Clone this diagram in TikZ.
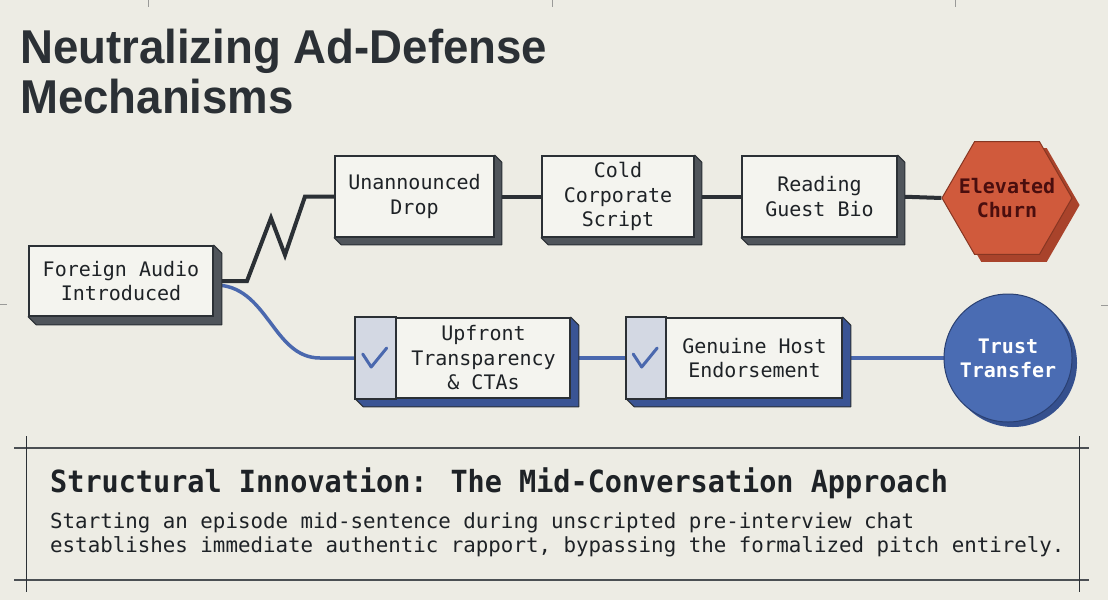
\documentclass[tikz,border=0pt]{standalone}
\usepackage{fontspec}
\setmainfont{Liberation Sans}
\newfontfamily\monof{DejaVu Sans Mono}
\usetikzlibrary{calc,shapes.geometric}
\definecolor{bgcol}{HTML}{EDECE4}
\definecolor{boxfill}{HTML}{F4F4EF}
\definecolor{linecol}{HTML}{2B3035}
\definecolor{textcol}{HTML}{1E2226}
\definecolor{grayext}{HTML}{50555B}
\definecolor{bluecol}{HTML}{4A68AE}
\definecolor{blueext}{HTML}{3A5494}
\definecolor{stripcol}{HTML}{D3D8E3}
\definecolor{redcol}{HTML}{D05A3C}
\definecolor{redext}{HTML}{A9432B}
\definecolor{redtext}{HTML}{4A0E0E}
\definecolor{circcol}{HTML}{4A6CB3}
\definecolor{circext}{HTML}{35508E}
\definecolor{tickcol}{HTML}{9A9A98}
\pgfdeclarelayer{bglayer}
\pgfdeclarelayer{midlayer}
\pgfsetlayers{bglayer,midlayer,main}
\newcommand\extrude[3]{\filldraw[fill=#3, draw=linecol, line width=1pt, line join=round] (#1.north east) -- ++(#2,#2) -- ($(#1.south east)+(#2,#2)$) -- ($(#1.south west)+(#2,#2)$) -- (#1.south west) -- cycle;}
\begin{document}
\begin{tikzpicture}[x=1pt,y=-1pt,
  box/.style={draw=linecol, line width=1.6pt, fill=boxfill, inner sep=0pt, align=center,
    font=\monof\fontsize{20}{24.5}\selectfont, text=textcol},
  bluebox/.style={box, draw=linecol},
  darkline/.style={draw=linecol, line width=4pt},
  blueline/.style={draw=bluecol, line width=3.5pt},
  checkmark/.style={draw=bluecol, line width=3pt, line cap=round, line join=round},
  tick/.style={draw=tickcol, line width=0.8pt},
  frame/.style={draw=linecol, line width=1pt},
  rule/.style={draw=linecol!85, line width=2.2pt},
  outcome/.style={align=center, font=\monof\bfseries\fontsize{20}{24}\selectfont}
]
\begin{pgfonlayer}{bglayer}
\fill[bgcol] (0,0) rectangle (1108,600);
\end{pgfonlayer}
\useasboundingbox (0,0) rectangle (1108,600);

% crop ticks
\draw[tick] (148,0) -- (148,7);
\draw[tick] (552,0) -- (552,7);
\draw[tick] (955,0) -- (955,7);
\draw[tick] (0,304) -- (7,304);
\draw[tick] (1101,305) -- (1108,305);

% title
\node[anchor=base west, inner sep=0pt, align=left, text=linecol,
  font=\bfseries\fontsize{47.5}{50}\selectfont] (title) at (20,113)
  {\scalebox{0.96}[1]{Neutralizing Ad-Defense}\\\scalebox{0.96}[1]{Mechanisms}};

% nodes
\node[box, minimum width=184pt, minimum height=70pt] (foreign) at (121,281) {Foreign Audio\\Introduced};
\node[box, minimum width=159pt, minimum height=81pt] (unann) at (414.5,196.5) {Unannounced\\Drop};
\node[box, minimum width=152pt, minimum height=81pt] (cold) at (618,196.5) {Cold\\Corporate\\Script};
\node[box, minimum width=155pt, minimum height=81pt] (reading) at (819.5,196.5) {Reading\\Guest Bio};
\node[regular polygon, regular polygon sides=6, minimum size=130pt, inner sep=-12pt, fill=redcol, draw=redext!80!black,
  line width=1pt, outcome, text=redtext] (churn) at (1007,198) {Elevated\\Churn};

\node[bluebox, minimum width=214pt, minimum height=80pt] (upfront) at (463,358) {};
\node[bluebox, minimum width=215pt, minimum height=80pt] (genuine) at (734.5,358) {};
\node[circle, minimum size=128pt, inner sep=0pt, fill=circcol, draw=circext!80!black, line width=1pt,
  outcome, text=white] (trust) at (1008,358) {Trust\\Transfer};

% strips and checks
\filldraw[fill=stripcol, draw=linecol, line width=1.6pt] (upfront.north west) rectangle ($(upfront.south west)+(41,0)$);
\filldraw[fill=stripcol, draw=linecol, line width=1.6pt] (genuine.north west) rectangle ($(genuine.south west)+(40,0)$);
\node[box, draw=none, fill=none] (uptext) at ($(upfront.center)+(20.5,0)$) {Upfront\\Transparency\\\& CTAs};
\node[box, draw=none, fill=none] (gentext) at ($(genuine.center)+(20,0)$) {Genuine Host\\Endorsement};
\coordinate (chk1) at ($(upfront.west)+(20.5,0)$);
\coordinate (chk2) at ($(genuine.west)+(20,0)$);
\draw[checkmark] ($(chk1)+(-13,-4)$) -- ($(chk1)+(-4.5,9)$) -- ($(chk1)+(11,-10)$);
\draw[checkmark] ($(chk2)+(-13,-4)$) -- ($(chk2)+(-4.5,9)$) -- ($(chk2)+(11,-10)$);

\begin{pgfonlayer}{midlayer}
% connectors
\draw[darkline, line join=miter] (foreign.east) -- (247,281) -- (271,218) -- (285,255) -- (305,196.5) -- (unann.west);
\draw[darkline] (unann.east) -- (cold.west);
\draw[darkline] (cold.east) -- (reading.west);
\draw[darkline] (reading.east) -- (churn.west);
\draw[blueline] ([yshift=-4pt]foreign.east) .. controls (268,284) and (272,358) .. (320,358) -- (upfront.west);
\draw[blueline] (upfront.east) -- (genuine.west);
\draw[blueline] (genuine.east) -- (trust.west);
% extrusions
\extrude{foreign}{8}{grayext}
\extrude{unann}{7}{grayext}
\extrude{cold}{7}{grayext}
\extrude{reading}{7}{grayext}
\extrude{upfront}{8}{blueext}
\extrude{genuine}{8}{blueext}
\fill[redext] ($(churn.corner 1)+(7,7)$) -- ($(churn.corner 2)+(7,7)$) -- ($(churn.corner 3)+(7,7)$) -- ($(churn.corner 4)+(7,7)$) -- ($(churn.corner 5)+(7,7)$) -- ($(churn.corner 6)+(7,7)$) -- cycle;
\fill[circext] ($(trust.center)+(5,5)$) circle[radius=64pt];
\end{pgfonlayer}

% bottom panel
\draw[rule] (14,448) -- (1089,448);
\draw[rule] (14,580) -- (1089,580);
\draw[frame] (26,436) -- (26,592);
\draw[frame] (1079,436) -- (1079,592);
\node[anchor=base west, inner sep=0pt, text=textcol,
  font=\monof\bfseries\fontsize{28.5}{30}\selectfont] (heading) at (50,492)
  {\scalebox{1}[1.07]{Structural Innovation: The Mid-Conversation Approach}};
\node[anchor=base west, inner sep=0pt, align=left, text=textcol,
  font=\monof\fontsize{20.8}{24}\selectfont] (body) at (50,552)
  {Starting an episode mid-sentence during unscripted pre-interview chat\\establishes immediate authentic rapport, bypassing the formalized pitch entirely.};
\end{tikzpicture}
\end{document}
